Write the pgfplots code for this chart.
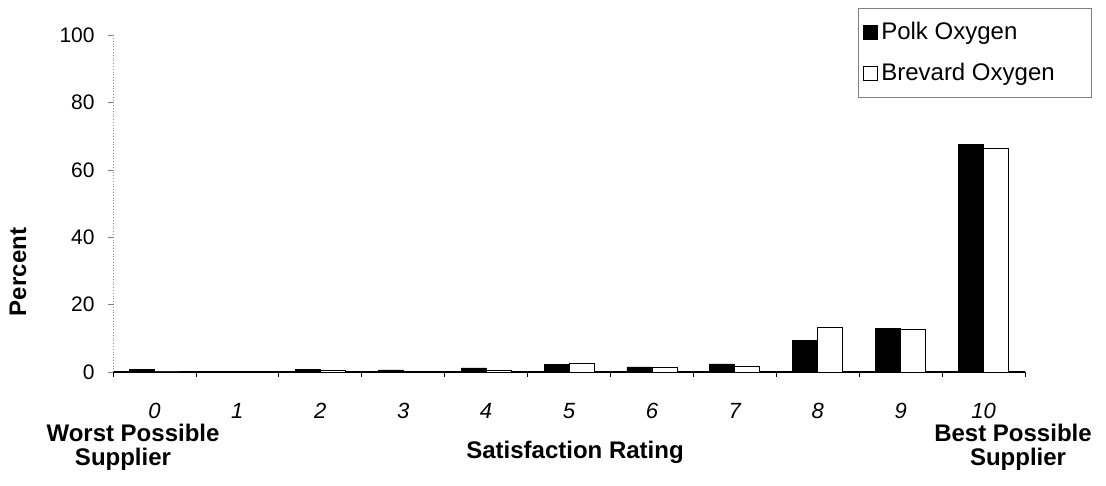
\documentclass[border=0pt]{standalone}
\usepackage{pgfplots}
\pgfplotsset{compat=1.18}
\usepackage{fontspec}
\setmainfont{Liberation Sans}

\begin{document}
\fontsize{10.5}{12.6}\selectfont
\begin{tikzpicture}
\path[use as bounding box] (-56.5pt,-57pt) rectangle (496.5pt,186pt);
\begin{axis}[
  at={(0,0)}, anchor=south west,
  width=456pt, height=168.5pt, scale only axis,
  xmin=-0.5, xmax=10.5, ymin=0, ymax=100,
  ybar=0pt, bar width=12.5pt,
  axis x line=bottom, axis y line=left,
  x axis line style={-, black, line width=0.6pt},
  y axis line style={-, black!45, densely dotted},
  tick align=outside,
  xtick={0,...,10},
  major x tick style={draw=none},
  minor xtick={-0.5,0.5,...,10.5},
  minor x tick style={black, thin},
  minor tick length=2.5pt,
  ytick={0,20,...,100},
  major y tick style={black!50},
  major tick length=2.5pt,
  /pgf/number format/assume math mode=true,
  xticklabel style={font=\fontsize{11}{13}\selectfont\itshape, anchor=base, yshift=-20.8pt},
  yticklabel style={anchor=east, inner sep=0pt, xshift=-6.5pt},
  legend image code/.code={\draw[#1, draw=black] (0pt,-3.5pt) rectangle (7pt,3.5pt);},
  legend cell align=left,
  legend style={at={(0.817,1.08)}, anchor=north west, draw=black!50,
    font=\fontsize{12}{14}\selectfont, row sep=6pt,
    inner xsep=2pt, inner ysep=5pt},
]
\addplot[fill=black, draw=black] coordinates {
  (0,0.8) (1,0) (2,0.8) (3,0.6) (4,1.2) (5,2.2)
  (6,1.5) (7,2.4) (8,9.4) (9,12.9) (10,67.5)};
\addlegendentry{\makebox[101pt][l]{Polk Oxygen}}
\addplot[fill=white, draw=black] coordinates {
  (0,0) (1,0.2) (2,0.6) (3,0.2) (4,0.6) (5,2.5)
  (6,1.3) (7,1.7) (8,13.3) (9,12.6) (10,66.3)};
\addlegendentry{\makebox[101pt][l]{Brevard Oxygen}}
\end{axis}
\begin{scope}[every node/.style={font=\bfseries\fontsize{12}{14}\selectfont, inner sep=1pt}]
  \node[rotate=90] at (-47.5pt,50pt) {Percent};
  \node[anchor=base] at (10pt,-34.5pt) {Worst Possible};
  \node[anchor=base] at (5pt,-46.5pt) {Supplier};
  \node[anchor=base] at (231pt,-43pt) {Satisfaction Rating};
  \node[anchor=base] at (450pt,-34.5pt) {Best Possible};
  \node[anchor=base] at (452.5pt,-46.5pt) {Supplier};
\end{scope}
\end{tikzpicture}
\end{document}
